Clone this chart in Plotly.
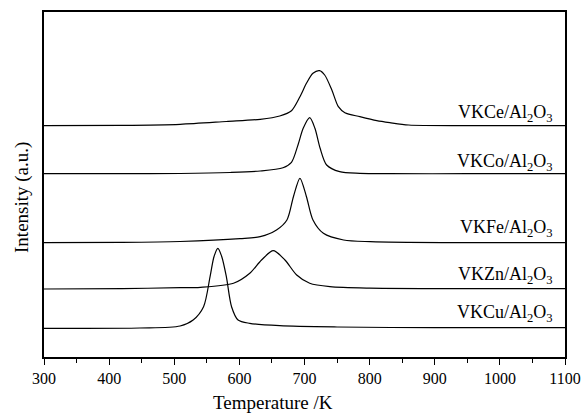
import plotly.graph_objects as go

# Temperature (K) / intensity (a.u.) samples
ce_T = [300, 420, 509, 580, 632, 662, 680, 693, 703, 713, 723, 731, 742, 752, 762, 785, 811, 831, 860, 950, 1100]
ce_I = [231.3, 231.6, 232.7, 235.5, 237.7, 241, 246.3, 260.3, 273.7, 283.7, 286.3, 282, 267, 250.3, 244.3, 240.3, 236.3, 234.3, 232, 231.4, 231.3]

co_T = [300, 420, 509, 586, 632, 667, 680, 690, 698, 708, 716, 724, 734, 754, 785, 830, 950, 1100]
co_I = [183.3, 183.3, 183.5, 184.5, 186, 189.3, 194.7, 212, 228.7, 239.3, 228.7, 208.7, 192, 185.3, 183.7, 183.3, 183.3, 183.3]

fe_T = [300, 420, 509, 601, 632, 657, 673, 683, 693, 703, 713, 729, 760, 801, 860, 950, 1100]
fe_I = [114.3, 114.6, 115.5, 118.3, 120.3, 127, 137, 160.3, 178.7, 160.3, 137, 123.7, 117, 115.3, 114.6, 114.3, 114.3]

zn_T = [300, 420, 509, 540, 591, 616, 634, 652, 670, 688, 708, 739, 800, 900, 1100]
zn_I = [68, 68.4, 69.3, 69.7, 73.7, 83.7, 97, 106.3, 97, 82, 73.7, 70.3, 68.8, 68.4, 68.3]

cu_T = [300, 447, 509, 529, 545, 555, 561, 567, 573, 580, 588, 598, 616, 662, 750, 900, 1100]
cu_I = [28.7, 29, 31, 37, 50.3, 80.3, 100.3, 108.7, 100.3, 80.3, 50.3, 37, 33.7, 31.3, 30, 29.3, 29.3]

labels = ["VKCe/Al<sub>2</sub>O<sub>3</sub>", "VKCo/Al<sub>2</sub>O<sub>3</sub>",
          "VKFe/Al<sub>2</sub>O<sub>3</sub>", "VKZn/Al<sub>2</sub>O<sub>3</sub>",
          "VKCu/Al<sub>2</sub>O<sub>3</sub>"]
label_y = [244, 195, 129, 82, 44]

x_ticks = [300, 400, 500, 600, 700, 800, 900, 1000, 1100]

series = [(ce_T, ce_I), (co_T, co_I), (fe_T, fe_I), (zn_T, zn_I), (cu_T, cu_I)]

FONT = "Liberation Serif"

fig = go.Figure()
for (t, i), name in zip(series, labels):
    fig.add_trace(go.Scatter(x=t, y=i, mode="lines", name=name,
                             line=dict(color="black", width=1.2, shape="spline", smoothing=0.8),
                             showlegend=False))

for name, yv in zip(labels, label_y):
    fig.add_annotation(x=1085, y=yv, text=name, showarrow=False, xanchor="right",
                       yanchor="middle", font=dict(family=FONT, size=18, color="black"))

# axis titles (placed as in the reference, slightly off-centre)
fig.add_annotation(xref="paper", yref="paper", x=0.4395, y=-0.132, text="Temperature /K",
                   showarrow=False, xanchor="center", yanchor="middle",
                   font=dict(family=FONT, size=19, color="black"))
fig.add_annotation(xref="paper", yref="paper", x=-0.0422, y=0.461, text="Intensity (a.u.)",
                   showarrow=False, xanchor="center", yanchor="middle", textangle=-90,
                   font=dict(family=FONT, size=19, color="black"))

fig.update_layout(
    width=584, height=418,
    margin=dict(l=44, r=19, t=12, b=61),
    paper_bgcolor="white", plot_bgcolor="white",
    font=dict(family=FONT, color="black"),
)
fig.update_xaxes(
    range=[300, 1100], tickvals=x_ticks, ticktext=[str(v) for v in x_ticks],
    showline=True, linecolor="black", linewidth=1.5, mirror=True,
    ticks="outside", ticklen=6, tickwidth=1.2, tickcolor="black",
    minor=dict(dtick=50, ticks="outside", ticklen=4, tickwidth=1.2, tickcolor="black"),
    showgrid=False, zeroline=False, automargin=False,
    tickfont=dict(family=FONT, size=16, color="black"),
)
fig.update_yaxes(
    range=[0, 345], showticklabels=False, ticks="",
    showline=True, linecolor="black", linewidth=1.5, mirror=True,
    showgrid=False, zeroline=False, automargin=False,
)

fig.write_html("out.html")
